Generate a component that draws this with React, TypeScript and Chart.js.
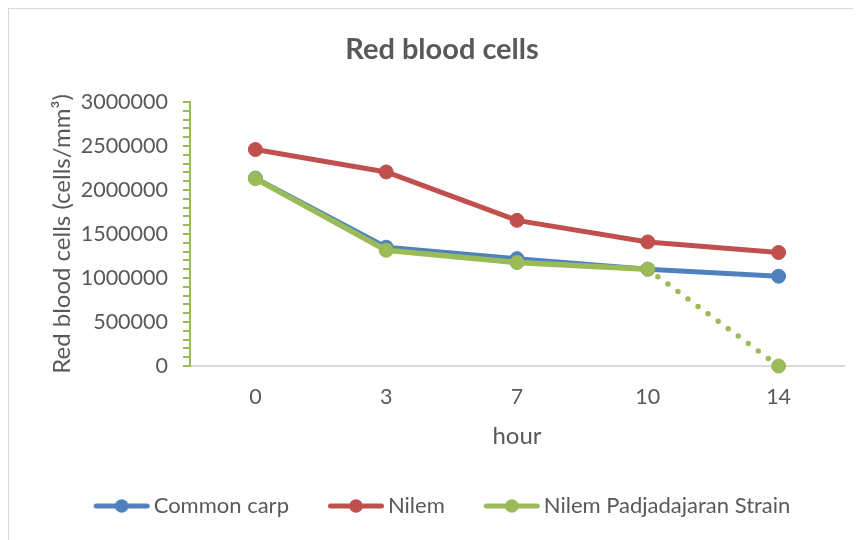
import { useEffect, useRef } from 'react';
import { Chart, registerables } from 'chart.js';

Chart.register(...registerables);

// ---- data ----
const hours = ['0', '3', '7', '10', '14'];
const commonCarp = [2135000, 1350000, 1220000, 1100000, 1020000];
const nilem = [2460000, 2205000, 1655000, 1410000, 1290000];
const nilemPadjadjaran = [2130000, 1315000, 1175000, 1100000, 0];
const seriesNames = ['Common carp', 'Nilem', 'Nilem Padjadajaran Strain'];
const seriesColors = ['#4F81BD', '#C0504D', '#9BBB59'];
const chartTitle = 'Red blood cells';
const yTitle = 'Red blood cells (cells/mm³)';
const xTitle = 'hour';
const yMin = 0;
const yMax = 3000000;
const yMajor = 500000;
const yMinor = 100000;

const TEXT = '#595959';
const FONT = 'Lato';

function legendIcon(color: string): HTMLCanvasElement {
  const c = document.createElement('canvas');
  c.width = 65;
  c.height = 16;
  const g = c.getContext('2d')!;
  g.strokeStyle = color;
  g.lineWidth = 5;
  g.lineCap = 'round';
  g.beginPath();
  g.moveTo(10.5, 8);
  g.lineTo(61.5, 8);
  g.stroke();
  g.fillStyle = color;
  g.beginPath();
  g.arc(36, 8, 6.8, 0, Math.PI * 2);
  g.fill();
  return c;
}

export default function App() {
  const ref = useRef<HTMLCanvasElement | null>(null);

  useEffect(() => {
    document.documentElement.style.overflow = 'hidden';
    const canvas = ref.current!;
    const icons = seriesColors.map(legendIcon);
    const series = [commonCarp, nilem, nilemPadjadjaran];
    const chart = new Chart(canvas, {
      type: 'line',
      data: {
        labels: hours,
        datasets: series.map((d, i) => ({
          label: seriesNames[i],
          data: d,
          borderColor: seriesColors[i],
          backgroundColor: seriesColors[i],
          pointBackgroundColor: seriesColors[i],
          pointBorderColor: seriesColors[i],
          borderWidth: i === 2 ? 5.5 : 5,
          borderCapStyle: 'round' as const,
          borderJoinStyle: 'round' as const,
          pointRadius: 7,
          pointBorderWidth: 1,
          tension: 0,
          clip: false,
          order: 2 - i,
          segment:
            i === 2
              ? { borderDash: (ctx: any) => (ctx.p0DataIndex === 3 ? [0, 12.5] : undefined) }
              : undefined,
        })),
      },
      options: {
        responsive: false,
        animation: false,
        devicePixelRatio: 1,
        layout: { padding: { left: 31, right: 17, top: 0, bottom: 13 } },
        plugins: {
          title: {
            display: true,
            text: chartTitle,
            color: TEXT,
            font: { family: FONT, size: 29, weight: 'bold' },
            padding: { top: 23.6, bottom: 34.6 },
          },
          legend: {
            position: 'bottom',
            labels: {
              color: TEXT,
              font: { family: FONT, size: 22 },
              usePointStyle: true,
              pointStyleWidth: 49,
              padding: 39,
              generateLabels: () =>
                seriesNames.map((name, i) => ({
                  text: name,
                  fillStyle: seriesColors[i],
                  strokeStyle: seriesColors[i],
                  lineWidth: 0,
                  pointStyle: icons[i],
                  hidden: false,
                  datasetIndex: i,
                  fontColor: TEXT,
                })),
            },
          },
          tooltip: { enabled: false },
        },
        scales: {
          x: {
            offset: true,
            grid: { display: false, drawTicks: false },
            border: { display: true, color: '#D9D9D9', width: 2 },
            ticks: { color: TEXT, font: { family: FONT, size: 21.5 }, padding: 18 },
            title: {
              display: true,
              text: xTitle,
              color: TEXT,
              font: { family: FONT, size: 24 },
              padding: { top: 0, bottom: 5.6 },
            },
            afterFit: (s: any) => {
              s.height = 90;
            },
          },
          y: {
            min: yMin,
            max: yMax,
            grid: {
              drawOnChartArea: false,
              drawTicks: true,
              tickLength: 7,
              color: '#9BBB59',
              lineWidth: 2,
            },
            border: { display: true, color: '#9BBB59', width: 2 },
            ticks: {
              stepSize: yMinor,
              autoSkip: false,
              color: TEXT,
              font: { family: FONT, size: 21.5 },
              padding: 15,
              callback: (v: any) => (Number(v) % yMajor === 0 ? String(v) : ''),
            },
            title: {
              display: true,
              text: yTitle,
              color: TEXT,
              font: { family: FONT, size: 24 },
              padding: { top: 7.6, bottom: 0 },
            },
            afterFit: (s: any) => {
              s.width = 150;
            },
          },
        },
      },
    });
    return () => chart.destroy();
  }, []);

  return (
    <div
      style={{
        width: 852,
        height: 531,
        borderTop: '1px solid #D9D9D9',
        borderLeft: '1px solid #D9D9D9',
        background: '#fff',
      }}
    >
      <canvas ref={ref} width={852} height={531} style={{ display: 'block' }} />
    </div>
  );
}
